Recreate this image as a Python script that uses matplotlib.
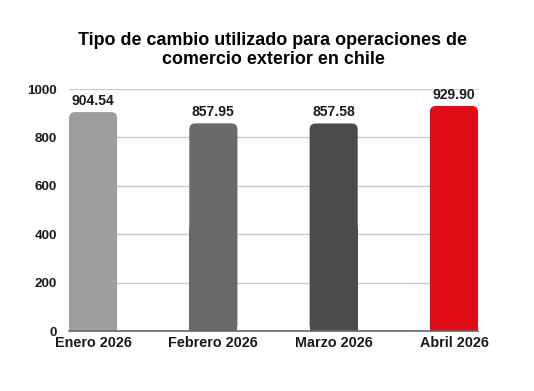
import matplotlib
matplotlib.use("Agg")
import matplotlib.pyplot as plt
from matplotlib.patches import FancyBboxPatch, Rectangle

categories = ["Enero 2026", "Febrero 2026", "Marzo 2026", "Abril 2026"]
values = [904.54, 857.95, 857.58, 929.90]
colors = ["#9e9e9e", "#6a6a6a", "#4b4b4b", "#e00d17"]
yticks = [0, 200, 400, 600, 800, 1000]
title = "Tipo de cambio utilizado para operaciones de\ncomercio exterior en chile"

plt.rcParams['font.family'] = ['Liberation Sans', 'DejaVu Sans']

fig = plt.figure(figsize=(5.34, 3.91), dpi=100)
ax = fig.add_axes([69/534, 1-331/391, 409/534, 242/391])

x = list(range(len(categories)))
bars = ax.bar(x, values, width=0.4, color=colors, zorder=2)
ax.set_xlim(-0.2, 3.2)
ax.set_ylim(0, 1000)

# rounded top corners
fig.canvas.draw()
bbox = ax.get_window_extent()
px_per_x = bbox.width / (3.4)
px_per_y = bbox.height / 1000.0
r_px = 6
for b in bars:
    bx, by, bw, bh = b.get_x(), b.get_y(), b.get_width(), b.get_height()
    col = b.get_facecolor()
    b.set_visible(False)
    r = r_px / px_per_x
    fb = FancyBboxPatch((bx, by), bw, bh,
                        boxstyle=f"round,pad=0,rounding_size={r}",
                        mutation_aspect=px_per_x / px_per_y,
                        facecolor=col, edgecolor="none", zorder=2)
    ax.add_patch(fb)
    ax.add_patch(Rectangle((bx, by), bw, bh / 2, facecolor=col, edgecolor="none", zorder=2))
    ax.annotate(f"{b.get_height():.2f}", (bx + bw / 2, bh), xytext=(0, 3),
                textcoords="offset points", ha="center", va="bottom",
                fontsize=10, fontweight="bold", color="#1a1a1a")

ax.set_yticks(yticks)
ax.set_yticklabels([str(t) for t in yticks], fontsize=9.7, fontweight="bold", color="#1a1a1a")
ax.set_xticks(x)
ax.set_xticklabels(categories, fontsize=10.4, fontweight="bold", color="#1a1a1a")
ax.tick_params(axis="both", length=0)
ax.tick_params(axis="y", pad=8.5)
ax.tick_params(axis="x", pad=3.5)
ax.yaxis.grid(True, color="#cccccc", linewidth=1, zorder=0)
ax.set_axisbelow(True)
for s in ["top", "right", "left"]:
    ax.spines[s].set_visible(False)
ax.spines["bottom"].set_color("#666666")
ax.spines["bottom"].set_linewidth(1.2)
ax.spines["bottom"].set_zorder(3)

fig.text(273/534, 1-50/391, title, ha="center", va="center", fontsize=12.9,
         fontweight="bold", color="#000000", linespacing=1.2)

fig.savefig("out.png", dpi=100)
